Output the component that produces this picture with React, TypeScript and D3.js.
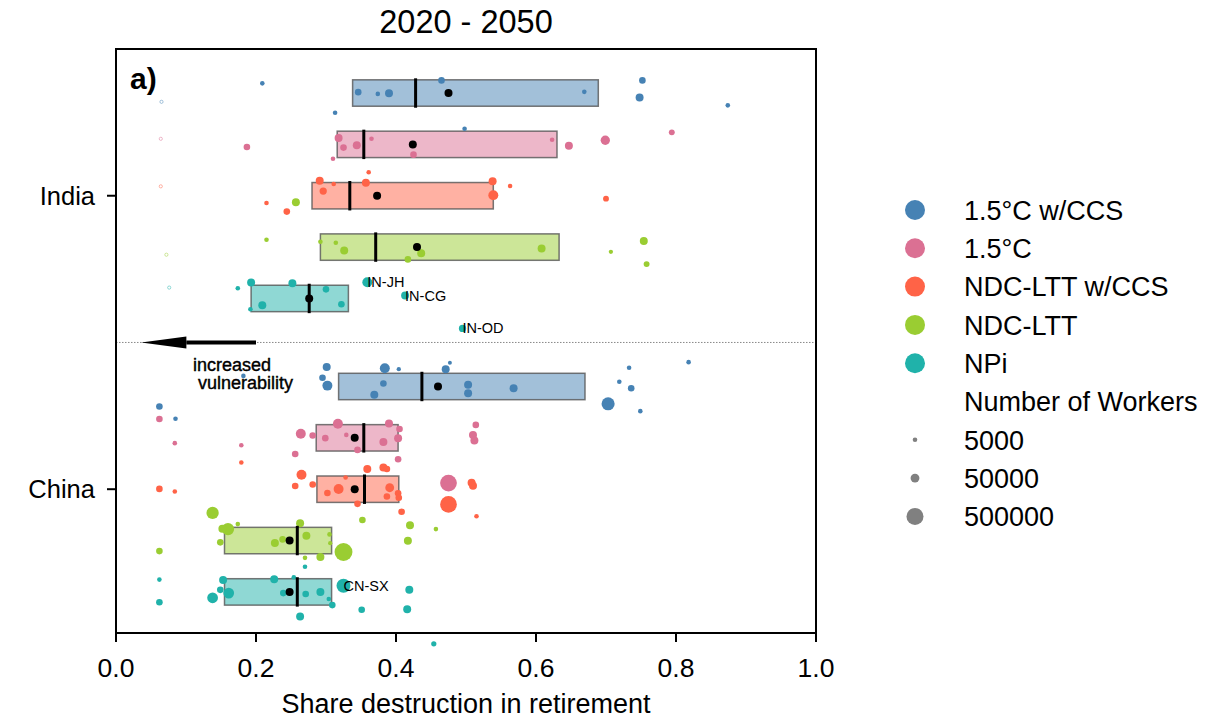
import React from "react";
import * as d3 from "d3";

const WIDTH = 1225;
const HEIGHT = 718;
const FONT = "'Liberation Sans', Arial, sans-serif";

const regions = ["India", "China"];
const scenarios = ["1.5°C w/CCS", "1.5°C", "NDC-LTT w/CCS", "NDC-LTT", "NPi"];
const colors = ["#4682B4", "#DB7093", "#FF6347", "#9ACD32", "#20B2AA"];
const rowOffsets = [-0.35, -0.175, 0, 0.175, 0.35];
const xTicks = [0, 0.2, 0.4, 0.6, 0.8, 1.0];
const sizeLegend = [5000, 50000, 500000];

// box stats, [region][scenario]
const boxLow = [
  [0.338, 0.316, 0.28, 0.292, 0.193],
  [0.318, 0.286, 0.287, 0.155, 0.155],
];
const boxHigh = [
  [0.689, 0.63, 0.539, 0.633, 0.332],
  [0.67, 0.403, 0.404, 0.308, 0.308],
];
const medians = [
  [0.428, 0.354, 0.334, 0.371, 0.276],
  [0.437, 0.354, 0.355, 0.259, 0.259],
];
const means = [
  [0.475, 0.424, 0.373, 0.43, 0.276],
  [0.46, 0.341, 0.341, 0.248, 0.248],
];

// points: [share, jitter, workers, label?]  (workers 0 = empty marker)
const india15ccs = [
  [0.209, -0.033, 5000], [0.065, 0.03, 0], [0.313, 0.067, 5000], [0.346, -0.003, 18000],
  [0.374, 0.003, 5000], [0.39, 0.001, 35000], [0.465, -0.043, 18000], [0.498, 0.122, 5000],
  [0.669, -0.004, 5000], [0.752, -0.043, 18000], [0.748, 0.015, 35000], [0.874, 0.042, 5000],
];
const india15 = [
  [0.064, -0.019, 0], [0.187, 0.009, 18000], [0.318, -0.022, 35000], [0.325, 0.011, 18000],
  [0.344, 0.003, 35000], [0.365, -0.019, 5000], [0.31, 0.049, 5000], [0.425, 0.035, 18000],
  [0.623, -0.016, 5000], [0.647, 0.005, 35000], [0.699, -0.014, 60000], [0.794, -0.041, 12000],
];
const indiaNdcCcs = [
  [0.064, -0.032, 0], [0.215, 0.025, 5000], [0.244, 0.054, 18000], [0.291, -0.051, 35000],
  [0.296, -0.016, 25000], [0.311, -0.04, 5000], [0.357, -0.044, 35000], [0.361, -0.08, 5000],
  [0.538, -0.049, 35000], [0.539, -0.002, 76000], [0.563, -0.033, 5000], [0.7, 0.01, 12000],
];
const indiaNdc = [
  [0.072, 0.026, 0], [0.215, -0.025, 5000], [0.257, -0.153, 35000], [0.292, -0.018, 5000],
  [0.314, -0.015, 5000], [0.326, 0.012, 35000], [0.417, 0.042, 18000], [0.436, 0.021, 35000],
  [0.608, 0.005, 35000], [0.707, 0.016, 4000], [0.754, -0.021, 35000], [0.758, 0.058, 12000],
];
const indiaNpi = [
  [0.076, -0.037, 0], [0.174, -0.035, 5000], [0.193, -0.054, 35000], [0.192, 0.037, 5000],
  [0.209, 0.023, 35000], [0.252, -0.052, 35000], [0.3, -0.031, 18000], [0.322, 0.02, 18000],
  [0.359, -0.055, 76000, "IN-JH"], [0.413, -0.01, 35000, "IN-CG"], [0.495, 0.102, 25000, "IN-OD"],
];
const china15ccs = [
  [0.062, 0.068, 18000], [0.085, 0.11, 5000], [0.182, -0.036, 5000], [0.301, -0.066, 35000],
  [0.295, -0.03, 18000], [0.302, -0.003, 76000], [0.384, -0.062, 76000], [0.404, -0.059, 4000],
  [0.382, -0.01, 18000], [0.369, 0.028, 35000], [0.471, -0.059, 35000], [0.477, -0.081, 3000],
  [0.503, -0.006, 35000], [0.503, 0.023, 35000], [0.568, 0.006, 35000], [0.703, 0.059, 200000],
  [0.719, -0.016, 5000], [0.733, -0.064, 5000], [0.736, 0.006, 18000], [0.749, 0.084, 5000],
  [0.818, -0.083, 5000],
];
const china15 = [
  [0.062, -0.064, 18000], [0.084, 0.018, 5000], [0.179, 0.025, 5000], [0.256, 0.055, 18000],
  [0.264, -0.014, 76000], [0.281, -0.008, 18000], [0.299, 0.001, 18000], [0.317, -0.048, 76000],
  [0.329, -0.01, 5000], [0.345, 0.041, 18000], [0.382, 0.014, 35000], [0.39, -0.049, 35000],
  [0.405, -0.03, 18000], [0.403, 0.001, 35000], [0.403, 0.073, 18000], [0.514, -0.044, 18000],
  [0.51, -0.01, 35000], [0.512, 0.009, 35000], [0.475, 0.154, 470000],
];
const chinaNdcCcs = [
  [0.062, -0.001, 18000], [0.084, 0.008, 5000], [0.179, -0.091, 5000], [0.265, -0.049, 76000],
  [0.256, -0.011, 18000], [0.281, -0.016, 18000], [0.302, 0.013, 18000], [0.318, -0.001, 76000],
  [0.328, -0.04, 5000], [0.345, 0.05, 18000], [0.359, -0.069, 35000], [0.382, -0.074, 35000],
  [0.387, -0.069, 18000], [0.391, -0.005, 50000], [0.387, 0.025, 18000], [0.403, 0.014, 18000],
  [0.404, 0.029, 18000], [0.408, 0.077, 18000], [0.475, 0.052, 470000], [0.508, -0.022, 35000],
  [0.51, -0.012, 35000], [0.515, 0.092, 5000],
];
const chinaNdc = [
  [0.062, 0.036, 18000], [0.138, -0.094, 160000], [0.16, -0.039, 160000], [0.152, -0.04, 35000],
  [0.174, -0.056, 5000], [0.149, 0.006, 18000], [0.227, 0.008, 35000], [0.238, -0.004, 18000],
  [0.263, -0.059, 35000], [0.272, -0.016, 35000], [0.292, 0.056, 35000], [0.27, 0.059, 5000],
  [0.305, -0.021, 5000], [0.306, 0.009, 4000], [0.325, 0.039, 600000], [0.352, -0.07, 18000],
  [0.42, -0.052, 35000], [0.417, 0.001, 35000], [0.457, -0.039, 5000],
];
const chinaNpi = [
  [0.062, -0.042, 5000], [0.062, 0.035, 18000], [0.138, 0.02, 100000], [0.149, -0.007, 18000],
  [0.153, -0.041, 35000], [0.161, 0.004, 100000], [0.226, -0.043, 35000], [0.239, 0.004, 18000],
  [0.254, -0.05, 5000], [0.271, 0.007, 18000], [0.292, 0.0, 35000], [0.304, 0.024, 5000],
  [0.309, 0.045, 18000], [0.263, 0.084, 35000], [0.27, -0.086, 5000], [0.325, -0.021, 250000, "CN-SX"],
  [0.351, 0.061, 18000], [0.419, -0.007, 35000], [0.416, 0.059, 35000], [0.454, 0.177, 8000],
];

const points = [
  [india15ccs, india15, indiaNdcCcs, indiaNdc, indiaNpi],
  [china15ccs, china15, chinaNdcCcs, chinaNdc, chinaNpi],
];

const M = { left: 116, right: 816, top: 49, bottom: 633 };
const FS = 26.5;

export default function App() {
  const x = d3.scaleLinear().domain([0, 1]).range([M.left, M.right]);
  const y = d3.scaleLinear().domain([-0.5, 1.49]).range([M.top, M.bottom]);
  const r = d3.scalePow().exponent(0.284).domain([0, 500000]).range([0, 8.5]);
  const boxH = y(0.045) - y(-0.045);

  const boxes = [];
  const dots = [];
  const stats = [];
  const labels = [];

  regions.forEach((reg, ri) => {
    scenarios.forEach((sc, si) => {
      const cy = ri + rowOffsets[si];
      boxes.push(
        <rect
          key={`b${ri}${si}`}
          x={x(boxLow[ri][si])}
          y={y(cy) - boxH / 2}
          width={x(boxHigh[ri][si]) - x(boxLow[ri][si])}
          height={boxH}
          fill={colors[si]}
          fillOpacity={0.5}
          stroke="#555"
          strokeOpacity={0.8}
          strokeWidth={1.5}
        />
      );
      points[ri][si].forEach((p, pi) => {
        const [share, jit, w, lab] = p as [number, number, number, string?];
        const px = x(share);
        const py = y(cy + jit);
        if (w === 0) {
          dots.push(
            <circle key={`p${ri}${si}${pi}`} cx={px} cy={py} r={1.6} fill="white"
              stroke={colors[si]} strokeOpacity={0.6} strokeWidth={0.8} />
          );
        } else {
          dots.push(<circle key={`p${ri}${si}${pi}`} cx={px} cy={py} r={r(w)} fill={colors[si]} />);
        }
        if (lab) {
          labels.push(
            <text key={`l${ri}${si}${pi}`} x={px} y={py} dy="0.35em" fontSize={14.5}>{lab}</text>
          );
        }
      });
      stats.push(
        <g key={`s${ri}${si}`}>
          <line x1={x(medians[ri][si])} x2={x(medians[ri][si])}
            y1={y(cy) - boxH / 2 - 1.5} y2={y(cy) + boxH / 2 + 1.5}
            stroke="black" strokeWidth={3} />
          <circle cx={x(means[ri][si])} cy={y(cy)} r={4} fill="black" />
        </g>
      );
    });
  });

  // arrow "increased vulnerability"
  const ay = y(0.5);
  const aStart = x(0.2);
  const aTip = x(0.036);
  const aBase = x(0.1005);

  const legendX = 915;
  const legendY0 = 210;
  const legendStep = 38.3;

  return (
    <svg width={WIDTH} height={HEIGHT} style={{ position: "absolute", left: 0, top: 0 }}
      fontFamily={FONT}>
      <rect width={WIDTH} height={HEIGHT} fill="white" />
      <text x={(M.left + M.right) / 2} y={32.5} textAnchor="middle" fontSize={32.5}>2020 - 2050</text>

      <line x1={M.left} x2={M.right} y1={ay} y2={ay} stroke="#888" strokeWidth={1}
        strokeDasharray="1.5,1.5" />

      {boxes}
      {dots}
      {stats}
      {labels}

      <line x1={aStart} x2={aBase} y1={ay} y2={ay} stroke="black" strokeWidth={4} />
      <path d={`M${aTip},${ay} L${aBase},${ay - 6} L${aBase},${ay + 6} Z`} fill="black" />
      <text fontSize={18} stroke="black" strokeWidth={0.4} style={{ whiteSpace: "pre" }}>
        <tspan x={x(0.11)} y={370.5}>increased</tspan>
        <tspan x={x(0.11)} y={388.5}>{" vulnerability"}</tspan>
      </text>

      <text x={130} y={89} fontSize={30} fontWeight="bold">a)</text>

      {/* frame */}
      <rect x={M.left} y={M.top} width={M.right - M.left} height={M.bottom - M.top}
        fill="none" stroke="black" strokeWidth={2} />

      {/* x axis */}
      {xTicks.map((t) => (
        <g key={`xt${t}`}>
          <line x1={x(t)} x2={x(t)} y1={M.bottom} y2={M.bottom + 9} stroke="black" strokeWidth={2} />
          <text x={x(t)} y={676.5} textAnchor="middle" fontSize={FS}>{d3.format(".1f")(t)}</text>
        </g>
      ))}
      <text x={(M.left + M.right) / 2} y={712.5} textAnchor="middle" fontSize={FS + 0.5}>
        Share destruction in retirement
      </text>

      {/* y axis */}
      {regions.map((reg, ri) => (
        <g key={`yt${ri}`}>
          <line x1={M.left - 9} x2={M.left} y1={y(ri)} y2={y(ri)} stroke="black" strokeWidth={2} />
          <text x={M.left - 21} y={y(ri)} dy="0.36em" textAnchor="end" fontSize={25.5}>{reg}</text>
        </g>
      ))}

      {/* legend */}
      {scenarios.map((sc, si) => (
        <g key={`lg${si}`}>
          <circle cx={legendX} cy={legendY0 + si * legendStep} r={10} fill={colors[si]} />
          <text x={964} y={legendY0 + si * legendStep} dy="0.36em" fontSize={FS + 0.5}>{sc}</text>
        </g>
      ))}
      <text x={964} y={legendY0 + 5 * legendStep} dy="0.36em" fontSize={FS + 0.5}>Number of Workers</text>
      {sizeLegend.map((w, i) => (
        <g key={`ls${w}`}>
          <circle cx={legendX} cy={legendY0 + (6 + i) * legendStep} r={r(w)} fill="gray" />
          <text x={964} y={legendY0 + (6 + i) * legendStep} dy="0.36em" fontSize={FS + 0.5}>{w}</text>
        </g>
      ))}
    </svg>
  );
}
